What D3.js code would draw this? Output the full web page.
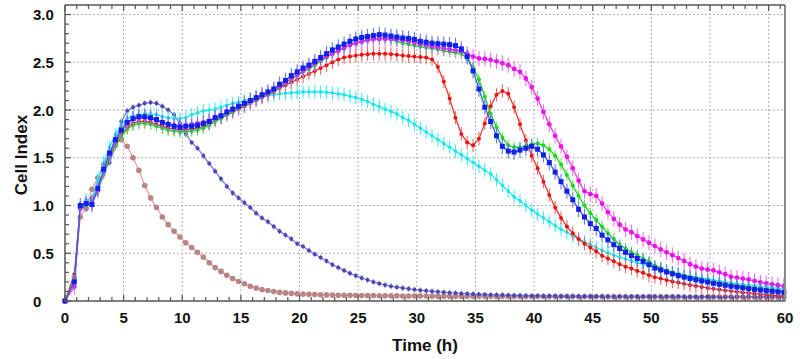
<!DOCTYPE html>
<html><head><meta charset="utf-8">
<script src="https://cdn.jsdelivr.net/npm/d3@7"></script>
<style>body{margin:0;background:#fff} svg{display:block;font-family:"Liberation Sans",Arial,sans-serif}</style>
</head><body><svg id="c" width="800" height="359"></svg>
<script>
// sampling grid of the measurement (h)
const times = [0].concat(d3.range(0.8, 61.31, 0.5));

const xTickValues = [0,5,10,15,20,25,30,35,40,45,50,55,61.4];
const xTickLabels = ["0","5","10","15","20","25","30","35","40","45","50","55","60"];
const xGridValues = [5,10,15,20,25,30,35,40,45,50,55,60];
const yTickValues = [0,0.5,1.0,1.5,2.0,2.5,3.0];
const yTickLabels = ["0","0.5","1.0","1.5","2.0","2.5","3.0"];

const seriesNames = ["brown","purple","cyan","red","green","magenta","blue"];
const seriesErr  = [0.02,0.03,0.07,0.07,0.06,0.08,0.08];

const brownVals = [0,
0.24,0.88,0.97,1.17,1.29,1.43,1.55,1.65,1.69,1.62,
1.50,1.37,1.21,1.08,0.98,0.88,0.80,0.73,0.67,0.61,
0.56,0.51,0.46,0.40,0.35,0.31,0.27,0.235,0.205,0.18,
0.155,0.135,0.12,0.11,0.10,0.09,0.085,0.08,0.075,0.072,
0.07,0.068,0.066,0.064,0.062,0.061,0.06,0.059,0.058,0.057,
0.056,0.056,0.055,0.055,0.054,0.054,0.053,0.053,0.052,0.052,
0.052,0.051,0.051,0.051,0.05,0.05,0.05,0.05,0.049,0.049,
0.049,0.049,0.048,0.048,0.048,0.048,0.047,0.047,0.047,0.047,
0.047,0.046,0.046,0.046,0.046,0.046,0.045,0.045,0.045,0.045,
0.045,0.045,0.044,0.044,0.044,0.044,0.044,0.044,0.043,0.043,
0.043,0.043,0.043,0.043,0.042,0.042,0.042,0.042,0.042,0.042,
0.042,0.041,0.041,0.041,0.041,0.041,0.041,0.04,0.04,0.04,
0.04,0.04];

const purpleVals = [0,
0.22,0.98,1.03,1.08,1.22,1.35,1.45,1.62,1.88,1.99,
2.03,2.05,2.07,2.08,2.07,2.04,2.00,1.95,1.86,1.75,
1.66,1.60,1.52,1.44,1.36,1.28,1.20,1.13,1.08,1.03,
0.98,0.92,0.87,0.83,0.78,0.73,0.69,0.65,0.60,0.57,
0.53,0.49,0.455,0.42,0.38,0.35,0.32,0.29,0.265,0.24,
0.22,0.20,0.183,0.167,0.155,0.145,0.136,0.128,0.12,0.113,
0.107,0.101,0.096,0.091,0.087,0.083,0.079,0.076,0.073,0.07,
0.068,0.066,0.064,0.062,0.06,0.058,0.057,0.056,0.055,0.054,
0.053,0.052,0.052,0.051,0.051,0.05,0.05,0.05,0.049,0.049,
0.049,0.048,0.048,0.048,0.048,0.047,0.047,0.047,0.047,0.046,
0.046,0.046,0.046,0.046,0.045,0.045,0.045,0.045,0.045,0.045,
0.044,0.044,0.044,0.044,0.044,0.044,0.043,0.043,0.043,0.043,
0.043,0.043];

const cyanVals = [0,
0.2,0.98,1.06,1.05,1.27,1.45,1.61,1.74,1.84,1.91,
1.94,1.95,1.96,1.96,1.95,1.93,1.92,1.91,1.91,1.92,
1.95,1.97,1.99,2.00,2.01,2.03,2.05,2.07,2.08,2.10,
2.115,2.13,2.14,2.15,2.16,2.17,2.175,2.18,2.185,2.19,
2.19,2.19,2.19,2.185,2.18,2.17,2.16,2.145,2.13,2.11,
2.09,2.06,2.035,2.01,1.985,1.96,1.92,1.89,1.85,1.81,
1.77,1.73,1.69,1.65,1.61,1.57,1.53,1.49,1.45,1.41,
1.37,1.33,1.27,1.21,1.15,1.09,1.05,1.00,0.95,0.91,
0.87,0.83,0.79,0.75,0.72,0.68,0.65,0.62,0.59,0.56,
0.53,0.505,0.48,0.46,0.44,0.42,0.40,0.385,0.37,0.35,
0.33,0.315,0.30,0.285,0.27,0.26,0.25,0.24,0.23,0.22,
0.21,0.2,0.19,0.183,0.175,0.168,0.16,0.153,0.147,0.14,
0.135,0.13];

const redVals = [0,
0.28,0.97,1.01,1.04,1.17,1.36,1.52,1.65,1.75,1.82,
1.86,1.88,1.88,1.87,1.85,1.83,1.81,1.80,1.79,1.79,
1.80,1.81,1.83,1.86,1.89,1.92,1.95,1.98,2.01,2.04,
2.07,2.10,2.13,2.16,2.19,2.23,2.26,2.29,2.32,2.35,
2.38,2.41,2.44,2.47,2.50,2.53,2.55,2.56,2.57,2.58,
2.585,2.59,2.59,2.59,2.585,2.58,2.57,2.565,2.56,2.555,
2.55,2.53,2.45,2.30,2.12,1.92,1.75,1.66,1.63,1.70,
1.86,2.04,2.16,2.20,2.17,2.03,1.85,1.68,1.52,1.39,
1.25,1.11,0.98,0.87,0.78,0.71,0.65,0.60,0.56,0.52,
0.475,0.445,0.415,0.385,0.36,0.34,0.315,0.295,0.27,0.25,
0.235,0.22,0.205,0.193,0.18,0.168,0.157,0.147,0.137,0.128,
0.12,0.112,0.104,0.097,0.09,0.084,0.078,0.072,0.066,0.06,
0.055,0.05];

const greenVals = [0,
0.22,0.96,1.0,1.03,1.15,1.33,1.50,1.63,1.72,1.80,
1.84,1.86,1.86,1.85,1.83,1.81,1.79,1.78,1.77,1.77,
1.78,1.79,1.81,1.84,1.88,1.91,1.95,1.98,2.02,2.05,
2.08,2.11,2.14,2.17,2.20,2.24,2.28,2.32,2.36,2.40,
2.43,2.47,2.51,2.55,2.59,2.62,2.65,2.68,2.70,2.72,
2.735,2.745,2.75,2.75,2.74,2.72,2.70,2.69,2.675,2.665,
2.655,2.645,2.635,2.62,2.61,2.60,2.59,2.54,2.44,2.32,
2.14,1.96,1.82,1.71,1.63,1.61,1.61,1.62,1.64,1.65,
1.63,1.59,1.52,1.43,1.32,1.21,1.10,1.0,0.92,0.85,
0.78,0.71,0.65,0.59,0.55,0.51,0.48,0.445,0.41,0.37,
0.345,0.32,0.3,0.28,0.265,0.25,0.237,0.225,0.213,0.2,
0.19,0.18,0.17,0.16,0.152,0.145,0.138,0.13,0.124,0.118,
0.112,0.106];

const magentaVals = [0,
0.15,0.97,1.02,1.03,1.16,1.36,1.53,1.67,1.78,1.86,
1.90,1.92,1.92,1.91,1.89,1.87,1.85,1.84,1.83,1.84,
1.85,1.86,1.87,1.89,1.92,1.94,1.97,2.00,2.03,2.06,
2.09,2.12,2.15,2.18,2.21,2.25,2.29,2.33,2.37,2.41,
2.45,2.49,2.53,2.56,2.59,2.62,2.65,2.68,2.70,2.715,
2.73,2.74,2.745,2.745,2.745,2.74,2.73,2.72,2.705,2.69,
2.68,2.665,2.655,2.645,2.635,2.625,2.615,2.59,2.56,2.54,
2.535,2.525,2.51,2.49,2.47,2.43,2.40,2.33,2.24,2.12,
1.98,1.85,1.73,1.62,1.51,1.39,1.26,1.15,1.12,1.10,
1.02,0.93,0.86,0.80,0.75,0.72,0.68,0.645,0.61,0.575,
0.54,0.51,0.48,0.45,0.42,0.385,0.36,0.34,0.33,0.32,
0.30,0.28,0.255,0.245,0.235,0.225,0.21,0.195,0.185,0.175,
0.165,0.155];

const blueVals = [0,
0.2,1.0,1.02,1.01,1.18,1.38,1.55,1.69,1.79,1.87,
1.91,1.93,1.93,1.92,1.90,1.87,1.85,1.83,1.82,1.83,
1.83,1.84,1.86,1.88,1.92,1.94,1.98,2.01,2.04,2.07,
2.10,2.13,2.16,2.19,2.22,2.27,2.31,2.36,2.40,2.44,
2.47,2.51,2.55,2.59,2.63,2.66,2.69,2.72,2.745,2.76,
2.77,2.78,2.79,2.785,2.775,2.765,2.755,2.75,2.74,2.72,
2.71,2.70,2.695,2.69,2.685,2.675,2.64,2.56,2.41,2.22,
2.03,1.88,1.73,1.62,1.57,1.56,1.58,1.60,1.62,1.59,
1.53,1.45,1.35,1.25,1.15,1.06,0.96,0.88,0.81,0.76,
0.69,0.64,0.59,0.55,0.51,0.475,0.445,0.415,0.38,0.345,
0.325,0.305,0.285,0.265,0.25,0.235,0.222,0.21,0.198,0.185,
0.175,0.165,0.155,0.146,0.138,0.13,0.122,0.115,0.108,0.102,
0.096,0.09];

const seriesValues = [brownVals, purpleVals, cyanVals, redVals, greenVals, magentaVals, blueVals];
const lineColors   = ["#d6a4a4","#7c78dc","#22e6ea","#e83838","#22cc22","#e040e6","#4058e0"];
const errColors    = ["#c8a0a0","#8c88e0","#40f0f0","#f06868","#60e860","#f070f0","#6078f0"];
const markColors   = ["#b88484","#4a46b4","#10e8ee","#ee1010","#10e010","#ee10ee","#1020ee"];
const markShapes   = ["circle","circle","circle","circle","circle","circle","square"];
const markSizes    = [2.8,2.0,1.8,2.0,2.0,2.4,2.5];

const svg = d3.select("#c");
const L = 65, R = 785, T = 5, B = 301;
const x = d3.scaleLinear().domain([0, 61.4]).range([L, R]);
const y = d3.scaleLinear().domain([0, 3.1]).range([B, T]);

// grid
const grid = svg.append("g");
grid.selectAll("line.gx").data(xGridValues).join("line")
  .attr("x1", d => x(d)).attr("x2", d => x(d)).attr("y1", T).attr("y2", B)
  .attr("stroke", "#b0b0b0").attr("stroke-width", 1).attr("stroke-dasharray", "2,2");
grid.selectAll("line.gy").data(yTickValues.filter(v => v > 0)).join("line")
  .attr("x1", L).attr("x2", R).attr("y1", d => y(d)).attr("y2", d => y(d))
  .attr("stroke", "#b0b0b0").attr("stroke-width", 1).attr("stroke-dasharray", "2,2");

// series
const plot = svg.append("g");
seriesValues.forEach((vals, si) => {
  const pts = vals.map((v, i) => [times[i], v]);
  const g = plot.append("g").attr("class", seriesNames[si]);
  g.append("path").datum(pts)
    .attr("d", d3.line().x(d => x(d[0])).y(d => y(d[1])))
    .attr("fill", "none").attr("stroke", lineColors[si]).attr("stroke-width", 1.3);
  const e = seriesErr[si];
  g.selectAll("line.err").data(pts.slice(1)).join("line")
    .attr("x1", d => x(d[0])).attr("x2", d => x(d[0]))
    .attr("y1", d => y(d[1] + e)).attr("y2", d => y(Math.max(0, d[1] - e)))
    .attr("stroke", errColors[si]).attr("stroke-width", 1.1);
  const s = markSizes[si];
  if (markShapes[si] === "square") {
    g.selectAll("rect").data(pts).join("rect")
      .attr("x", d => x(d[0]) - s).attr("y", d => y(d[1]) - s)
      .attr("width", 2 * s).attr("height", 2 * s).attr("fill", markColors[si]);
  } else {
    g.selectAll("circle").data(pts).join("circle")
      .attr("cx", d => x(d[0])).attr("cy", d => y(d[1])).attr("r", s)
      .attr("fill", markColors[si]);
  }
});

// frame
const ax = svg.append("g");
ax.append("line").attr("x1", R).attr("x2", R).attr("y1", T).attr("y2", B).attr("stroke", "#8a8a8a").attr("stroke-width", 2);
ax.append("line").attr("x1", L).attr("x2", R).attr("y1", T).attr("y2", T).attr("stroke", "#555").attr("stroke-width", 1.5);
ax.append("line").attr("x1", L).attr("x2", R).attr("y1", B).attr("y2", B).attr("stroke", "#555").attr("stroke-width", 1.5);
ax.append("line").attr("x1", L).attr("x2", L).attr("y1", T).attr("y2", B).attr("stroke", "#555").attr("stroke-width", 1.5);

// minor/major ticks
const xMinor = d3.range(0, 62, 1);
ax.selectAll("line.tb").data(xMinor).join("line")
  .attr("x1", d => x(d)).attr("x2", d => x(d))
  .attr("y1", B).attr("y2", d => d % 5 === 0 ? B - 6 : B - 4)
  .attr("stroke", "#555").attr("stroke-width", 1.2);
ax.selectAll("line.tt").data(xMinor).join("line")
  .attr("x1", d => x(d)).attr("x2", d => x(d))
  .attr("y1", T).attr("y2", d => d % 5 === 0 ? T + 6 : T + 4)
  .attr("stroke", "#555").attr("stroke-width", 1.2);
const yMinor = d3.range(0, 31, 1).map(i => i / 10);
ax.selectAll("line.tl").data(yMinor).join("line")
  .attr("x1", L).attr("x2", (d, i) => i % 5 === 0 ? L + 6 : L + 4)
  .attr("y1", d => y(d)).attr("y2", d => y(d))
  .attr("stroke", "#555").attr("stroke-width", 1.2);

// labels
svg.append("g").selectAll("text").data(xTickValues).join("text")
  .attr("x", d => x(d)).attr("y", 323).attr("text-anchor", "middle")
  .attr("font-size", 15).attr("font-weight", "bold").attr("fill", "#111")
  .text((d, i) => xTickLabels[i]);
svg.append("g").selectAll("text").data(yTickValues).join("text")
  .attr("x", 33).attr("y", d => y(d) + 5.5).attr("text-anchor", "start")
  .attr("font-size", 15).attr("font-weight", "bold").attr("fill", "#111")
  .text((d, i) => yTickLabels[i]);
svg.append("text").attr("x", 425).attr("y", 351).attr("text-anchor", "middle")
  .attr("font-size", 17).attr("font-weight", "bold").attr("fill", "#111").text("Time (h)");
svg.append("text").attr("transform", "translate(27,155) rotate(-90)").attr("text-anchor", "middle")
  .attr("font-size", 17).attr("font-weight", "bold").attr("fill", "#111").text("Cell Index");
</script>
</body></html>
